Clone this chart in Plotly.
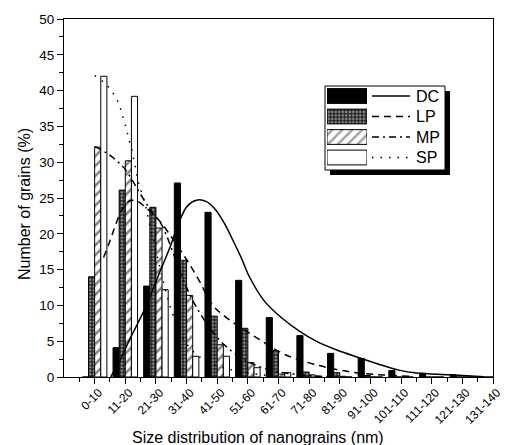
import plotly.graph_objects as go

# ---- data -------------------------------------------------------------
categories = ["0-10", "11-20", "21-30", "31-40", "41-50", "51-60", "61-70",
              "71-80", "81-90", "91-100", "101-110", "111-120", "121-130", "131-140"]

dc = [0.0, 4.1, 12.7, 27.1, 23.0, 13.5, 8.3, 5.8, 3.3, 2.6, 0.9, 0.5, 0.3, 0.0]
lp = [14.0, 26.1, 23.7, 16.3, 8.5, 6.8, 3.7, 0.7, 0.6, 0.2, 0.0, 0.0, 0.0, 0.0]
mp = [32.1, 30.2, 20.8, 11.4, 4.5, 2.0, 0.4, 0.3, 0.1, 0.0, 0.0, 0.0, 0.0, 0.0]
sp = [42.0, 39.2, 12.2, 2.9, 2.9, 1.3, 0.6, 0.1, 0.0, 0.0, 0.0, 0.0, 0.0, 0.0]

# fitted distribution curves (x in category units, y in %)
dc_fit_x = [0.52, 0.81, 1.14, 1.69, 2.12, 2.44, 2.77, 3.03, 3.32, 3.65, 3.94, 4.23,
            4.50, 4.79, 5.05, 5.54, 6.12, 6.68, 7.23, 7.88, 8.63, 9.38, 9.93, 10.5,
            11.6, 12.7]
dc_fit_y = [0.0, 2.2, 5.2, 10.0, 14.6, 17.9, 21.8, 23.9, 24.7, 24.5, 23.4, 21.5,
            19.2, 16.6, 14.0, 10.6, 8.2, 6.4, 5.0, 3.8, 2.7, 1.65, 0.96, 0.56,
            0.32, 0.04]

lp_fit_x = [0.29, 0.49, 0.68, 0.91, 1.14, 1.37, 1.63, 2.12, 2.61, 3.03, 3.42, 3.84,
            4.30, 5.28, 6.23, 7.33, 8.31, 9.28, 10.26]
lp_fit_y = [16.7, 18.9, 21.2, 23.5, 24.6, 24.6, 23.8, 21.8, 18.9, 16.2, 13.4, 10.1,
            8.3, 5.5, 3.1, 1.6, 0.74, 0.32, 0.1]

mp_fit_x = [0.0, 0.42, 0.72, 0.98, 1.14, 1.50, 1.86, 2.18, 2.61, 2.93, 3.26, 3.75,
            4.23, 4.89, 5.70, 6.68, 7.65]
mp_fit_y = [32.2, 31.2, 30.2, 29.1, 28.1, 25.5, 23.1, 21.3, 16.8, 13.2, 10.2, 6.9,
            4.5, 2.4, 1.0, 0.3, 0.04]

sp_fit_x = [0.0, 0.29, 0.52, 0.72, 0.85, 0.94, 1.04, 1.11, 1.21, 1.27, 1.34, 1.40,
            1.50, 1.66, 1.79, 1.95, 2.18, 2.44, 2.77, 3.16, 3.75, 4.56, 5.70]
sp_fit_y = [42.1, 41.2, 40.1, 38.8, 37.4, 36.0, 34.6, 33.3, 31.8, 30.5, 29.1, 27.7,
            26.2, 23.9, 21.4, 18.6, 14.4, 10.2, 6.4, 3.8, 2.0, 0.9, 0.2]

series_names = ["DC", "LP", "MP", "SP"]

# ---- figure -----------------------------------------------------------
FONT = "Liberation Sans, Arial, sans-serif"
W, H = 510, 445
ML, MR, MT, MB = 64, 17, 19, 68
PW, PH = W - ML - MR, H - MT - MB

pos = list(range(len(categories)))
outline = dict(color="black", width=1)
# LP: dark cross-hatch (white holes on black); MP: diagonal hatch
cross = dict(shape=".", fgcolor="white", bgcolor="#222222", size=3.5, solidity=0.4)
hatch = dict(shape="/", fgcolor="black", bgcolor="white", size=7, solidity=0.35)

fig = go.Figure()
fig.add_bar(x=pos, y=dc, name="DC", marker=dict(color="black", line=outline))
fig.add_bar(x=pos, y=lp, name="LP",
            marker=dict(color="#222222", line=outline, pattern=cross))
fig.add_bar(x=pos, y=mp, name="MP",
            marker=dict(color="white", line=outline, pattern=hatch))
fig.add_bar(x=pos, y=sp, name="SP", marker=dict(color="white", line=outline))

line_styles = {
    "DC": "solid",
    "LP": "7px,5px",
    "MP": "7px,4px,2px,4px",
    "SP": "1.5px,7px",
}
for name, xs, ys in [("DC", dc_fit_x, dc_fit_y), ("LP", lp_fit_x, lp_fit_y),
                     ("MP", mp_fit_x, mp_fit_y), ("SP", sp_fit_x, sp_fit_y)]:
    fig.add_scatter(x=xs, y=ys, mode="lines", name=name + " fit",
                    line=dict(color="black", width=1.5, dash=line_styles[name],
                              shape="spline", smoothing=1.0))


# ---- legend block (box with shadow, fill swatches, line samples) ------
def px_x(p):
    return (p - ML) / PW


def px_y(p):
    return (H - MB - p) / PH


box_l, box_r, box_t, box_b = 325, 445, 86, 170
shadow = 5
shapes = [
    dict(type="rect", xref="paper", yref="paper", layer="below",
         x0=px_x(box_l + shadow), x1=px_x(box_r + shadow),
         y0=px_y(box_b + shadow), y1=px_y(box_t + shadow),
         fillcolor="black", line=dict(width=0)),
    dict(type="rect", xref="paper", yref="paper", layer="below",
         x0=px_x(box_l), x1=px_x(box_r), y0=px_y(box_b), y1=px_y(box_t),
         fillcolor="white", line=dict(color="black", width=1)),
]
row_y = [96, 116.5, 137, 157.5]
annotations = []
for name, ry in zip(series_names, row_y):
    shapes.append(dict(type="line", xref="paper", yref="paper",
                       x0=px_x(372), x1=px_x(410), y0=px_y(ry), y1=px_y(ry),
                       line=dict(color="black", width=1.5, dash=line_styles[name])))
    annotations.append(dict(xref="paper", yref="paper", x=px_x(414), y=px_y(ry),
                            text=name, showarrow=False, xanchor="left",
                            yanchor="middle", font=dict(family=FONT, size=16, color="black")))

# axis titles
annotations.append(dict(xref="paper", yref="paper", x=px_x(258), y=px_y(437),
                        text="Size distribution of nanograins (nm)", showarrow=False,
                        xanchor="center", yanchor="middle",
                        font=dict(family=FONT, size=16, color="black")))
annotations.append(dict(xref="paper", yref="paper", x=px_x(25), y=px_y(204),
                        text="Number of grains (%)", showarrow=False, textangle=-90,
                        xanchor="center", yanchor="middle",
                        font=dict(family=FONT, size=16, color="black")))

pitch = row_y[1] - row_y[0]
fig.add_bar(x=[1, 1, 1, 1], y=[0, 1, 2, 3], orientation="h", width=0.72,
            xaxis="x2", yaxis="y2", showlegend=False, hoverinfo="skip",
            marker=dict(color=["black", "#222222", "white", "white"], line=outline,
                        pattern=dict(shape=["", ".", "/", ""],
                                     fgcolor=["black", "white", "black", "black"],
                                     size=[4, 3.5, 7, 4], solidity=[0.3, 0.4, 0.35, 0.3])))

# ---- layout -----------------------------------------------------------
fig.update_layout(
    width=W, height=H,
    margin=dict(l=ML, r=MR, t=MT, b=MB, pad=0, autoexpand=False),
    paper_bgcolor="white", plot_bgcolor="rgba(0,0,0,0)",
    barmode="group", bargap=0.2, bargroupgap=0,
    showlegend=False,
    font=dict(family=FONT, color="black", size=13),
    shapes=shapes, annotations=annotations,
    xaxis=dict(
        range=[-1, 13], tickmode="array", tickvals=pos, ticktext=categories,
        tickangle=-45, ticks="outside", ticklen=6, tickwidth=1, tickcolor="black",
        showline=True, linecolor="black", linewidth=1, mirror=True,
        showgrid=False, zeroline=False, tickfont=dict(size=12), automargin=False,
        ticklabelshift=4, ticklabelstandoff=-3,
        minor=dict(tickmode="array", tickvals=[i - 0.5 for i in range(0, 14)],
                   ticks="outside", ticklen=4, tickcolor="black"),
    ),
    yaxis=dict(
        range=[0, 50], dtick=5, ticks="outside", ticklen=6, tickwidth=1,
        tickcolor="black", showline=True, linecolor="black", linewidth=1,
        mirror=True, showgrid=False, zeroline=False, tickfont=dict(size=13.5),
        automargin=False,
        minor=dict(dtick=2.5, ticks="outside", ticklen=4, tickcolor="black"),
    ),
    xaxis2=dict(domain=[px_x(327), px_x(367)], range=[0, 1], visible=False,
                anchor="y2", fixedrange=True),
    yaxis2=dict(domain=[px_y(row_y[-1] + pitch / 2), px_y(row_y[0] - pitch / 2)],
                range=[3.5, -0.5], visible=False, anchor="x2", fixedrange=True),
)

fig.write_html("out.html")
